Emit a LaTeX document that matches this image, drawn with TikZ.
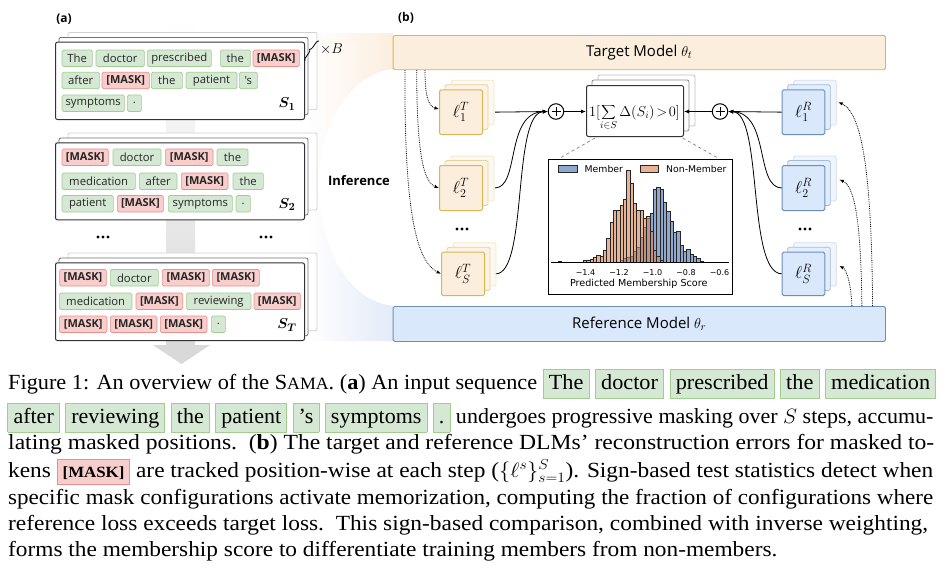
\documentclass[tikz,border=0pt]{standalone}
\usepackage{fontspec}
\usepackage{bm}
\setmainfont{Liberation Serif}
\newfontfamily\osans{Open Sans}
\newfontfamily\dvs{DejaVu Sans}
\usetikzlibrary{arrows.meta,decorations.pathreplacing,calc}
\definecolor{tfill}{HTML}{FBEEDC}
\definecolor{tdraw}{HTML}{D6B656}
\definecolor{rfill}{HTML}{DAE8FC}
\definecolor{rdraw}{HTML}{6C8EBF}
\definecolor{wg}{HTML}{D5E8D4}
\definecolor{wgD}{HTML}{A3CC90}
\definecolor{wr}{HTML}{F8CECC}
\definecolor{wrD}{HTML}{EA8F8C}
\definecolor{peachfan}{HTML}{FBEEDE}
\definecolor{bluefan}{HTML}{E3EBF8}
\definecolor{grayarrow}{HTML}{D9D9D9}
\definecolor{membc}{HTML}{4C72B0}
\definecolor{nonc}{HTML}{DD8452}
\newsavebox\capbox
\newcommand\capline[2]{\sbox\capbox{#2}\pgfmathsetmacro\capsx{#1/\the\wd\capbox}\scalebox{\capsx}[1]{\usebox\capbox}}
\newcommand\gw[1]{{\setlength\fboxsep{0pt}\setlength\fboxrule{0.9pt}\fcolorbox{wgD}{wg}{\rule[-8.5pt]{0pt}{28.2pt}\hspace{5pt}#1\hspace{5pt}}}}
\newcommand\rw[1]{{\setlength\fboxsep{0pt}\setlength\fboxrule{0.9pt}\fcolorbox{wrD}{wr}{\rule[-6.8pt]{0pt}{24.2pt}\hspace{4.5pt}{\fontsize{15.6}{16}\selectfont\textbf{#1}}\hspace{4.5pt}}}}
\newcommand\capfont{\fontsize{21.6}{25}\selectfont}
\newcommand\WB[6]{\node[#1, minimum width={#4-#3}, anchor=west] (#2) at (#3,#5) {#6};}
\newcommand\cardstack[5]{%
  \path[cardback] (#2+13,#3-9.3) rectangle (#4+13,#5-9.3);
  \path[cardmid] (#2+4,#3-4.3) rectangle (#4+4,#5-4.3);
  \node[cardfront, anchor=north west, minimum width={#4-#2}, minimum height={#5-#3}] (#1) at (#2,#3) {};}
\newcommand\losscard[8]{%
  \path[draw=#2!30, fill=#1!40, line width=0.8pt, rounded corners=1.5pt] (#4+12,#5-9) rectangle (#6+12,#7-9);
  \path[draw=#2!60, fill=#1!75, line width=0.8pt, rounded corners=1.5pt] (#4+6,#5-4.5) rectangle (#6+6,#7-4.5);
  \node[draw=#2, fill=#1, line width=1pt, rounded corners=1.5pt, anchor=north west, minimum width={#6-#4}, minimum height={#7-#5}, inner sep=0pt, font=\fontsize{17}{17}\selectfont] (#3) at (#4,#5) {#8};}
\begin{document}
\begin{tikzpicture}[x=1pt,y=-1pt,
  wbox/.style={draw=wgD, fill=wg, rounded corners=1.5pt, line width=0.7pt, minimum height=16.5pt, inner sep=0pt, font=\osans\fontsize{11.3}{12}\selectfont, text=black!85},
  mbox/.style={wbox, draw=wrD, fill=wr, font=\osans\bfseries\fontsize{11}{12}\selectfont},
  cardfront/.style={draw=black!80, fill=white, line width=1pt, rounded corners=2pt, inner sep=0pt},
  cardmid/.style={draw=black!55, fill=white, line width=0.8pt, rounded corners=2pt},
  cardback/.style={draw=black!18, fill=white, line width=0.8pt, rounded corners=2pt},
  arr/.style={-{Latex[length=5pt,width=4pt]}, line width=0.8pt},
  darr/.style={-{Latex[length=4.5pt,width=3.5pt]}, line width=0.8pt, densely dotted},
  lbl/.style={font=\osans\bfseries\fontsize{12}{12}\selectfont},
  slbl/.style={font=\fontsize{15}{15}\selectfont},
  hfont/.style={font=\dvs\fontsize{9.3}{10}\selectfont, inner sep=0pt},
  plus/.style={circle, draw, fill=white, line width=1pt, minimum size=15.5pt, inner sep=0pt},
]
\useasboundingbox (0,0) rectangle (946,568);
\fill[white] (0,0) rectangle (946,568);
% fans
\shade[left color=white, right color=peachfan] (306,33) -- (393,33) -- (393,69) .. controls (345,75) and (320,130) .. (318,185) -- (306,185) -- cycle;
\shade[left color=white, right color=bluefan] (306,185) -- (318,185) .. controls (320,245) and (345,300) .. (393,306) -- (393,341) -- (306,341) -- cycle;
% gray arrow
\shade[top color=white, bottom color=grayarrow] (166,20) rectangle (195,345);
\fill[grayarrow] (153,345) -- (210,345) -- (181.5,364) -- cycle;
% labels
\node[lbl] (la) at (64,19) {(a)};
\node[lbl] (lb) at (406,18) {(b)};
% card S1
\cardstack{c1}{55}{41.7}{304}{119}
\WB{wbox}{a11}{61.7}{92}{58.3}{The}
\WB{wbox}{a12}{95.7}{144}{58.3}{doctor}
\WB{wbox}{a13}{147}{211}{58.3}{prescribed}
\WB{wbox}{a14}{220}{250}{58.3}{the}
\WB{mbox}{a15}{252.7}{299}{58.3}{[MASK]}
\WB{wbox}{a21}{61.7}{99}{80.5}{after}
\WB{mbox}{a22}{101.7}{149}{80.5}{[MASK]}
\WB{wbox}{a23}{151}{182}{80.5}{the}
\WB{wbox}{a24}{185.7}{236.7}{80.5}{patient}
\WB{wbox}{a25}{239}{257}{80.5}{'s}
\WB{wbox}{a31}{61.7}{124}{103.3}{symptoms}
\WB{wbox}{a32}{127}{141}{103.3}{.}
\node[slbl] (s1) at (287,104) {$\bm{S_1}$};
\draw[decorate, decoration={brace, amplitude=3pt}, line width=0.8pt] (305,61) -- (319,41);
\node[font=\fontsize{13.5}{13.5}\selectfont] (xb) at (331.5,49) {$\times B$};
% card S2
\cardstack{c2}{55}{142.3}{304}{219.3}
\WB{mbox}{b11}{61.7}{108}{157.2}{[MASK]}
\WB{wbox}{b12}{112.7}{160.7}{157.2}{doctor}
\WB{mbox}{b13}{165}{212.7}{157.2}{[MASK]}
\WB{wbox}{b14}{216.7}{247.7}{157.2}{the}
\WB{wbox}{b21}{61.7}{135}{181.3}{medication}
\WB{wbox}{b22}{139}{176.7}{181.3}{after}
\WB{mbox}{b23}{181}{227.7}{181.3}{[MASK]}
\WB{wbox}{b24}{232.7}{263}{181.3}{the}
\WB{wbox}{b31}{61.7}{113}{203.8}{patient}
\WB{mbox}{b32}{117}{163}{203.8}{[MASK]}
\WB{wbox}{b33}{168}{232}{203.8}{symptoms}
\WB{wbox}{b34}{235.7}{250}{203.8}{.}
\node[slbl] (s2) at (287,204.5) {$\bm{S_2}$};
\foreach \dx in {-5,0,5} {\fill (103+\dx,237) circle (1.7); \fill (266+\dx,237) circle (1.7);}
% card ST
\cardstack{c3}{55}{262.3}{304}{340}
\WB{mbox}{e11}{59.3}{106}{277.8}{[MASK]}
\WB{wbox}{e12}{110}{158}{277.8}{doctor}
\WB{mbox}{e13}{162}{209}{277.8}{[MASK]}
\WB{mbox}{e14}{212}{259}{277.8}{[MASK]}
\WB{wbox}{e21}{59}{131.7}{301.3}{medication}
\WB{mbox}{e22}{135.7}{182.3}{301.3}{[MASK]}
\WB{wbox}{e23}{186}{250.7}{301.3}{reviewing}
\WB{mbox}{e24}{253.7}{300}{301.3}{[MASK]}
\WB{mbox}{e31}{59}{106.7}{324.3}{[MASK]}
\WB{mbox}{e32}{110}{156.7}{324.3}{[MASK]}
\WB{mbox}{e33}{160}{206.7}{324.3}{[MASK]}
\WB{wbox}{e34}{211}{225}{324.3}{.}
\node[slbl] (s3) at (287,325) {$\bm{S_T}$};
\node[font=\osans\bfseries\fontsize{13}{13}\selectfont] (inf) at (359,180.5) {Inference};
% model boxes
\node[draw=tdraw, fill=tfill, line width=0.9pt, rounded corners=1.5pt, anchor=north west, minimum width=492.3pt, minimum height=34.3pt, font=\osans\fontsize{15}{15}\selectfont] (tgt) at (392.7,35) {Target Model $\theta_t$};
\node[draw=rdraw, fill=rfill, line width=0.9pt, rounded corners=1.5pt, anchor=north west, minimum width=492.3pt, minimum height=35pt, font=\osans\fontsize{15}{15}\selectfont] (ref) at (392.7,306) {Reference Model $\theta_r$};
% loss cards
\losscard{tfill}{tdraw}{t1}{439}{89.3}{482}{134}{$\ell^{T}_{1}$}
\losscard{tfill}{tdraw}{t2}{439}{165}{482}{210}{$\ell^{T}_{2}$}
\losscard{tfill}{tdraw}{tS}{441}{251.7}{484}{295}{$\ell^{T}_{S}$}
\losscard{rfill}{rdraw}{r1}{781.7}{89.3}{824.3}{134}{$\ell^{R}_{1}$}
\losscard{rfill}{rdraw}{r2}{781.7}{165}{824.3}{210}{$\ell^{R}_{2}$}
\losscard{rfill}{rdraw}{rS}{781.7}{251.7}{824.3}{295}{$\ell^{R}_{S}$}
\foreach \dx in {-5,0,5} {\fill (462+\dx,229) circle (1.7); \fill (805+\dx,229) circle (1.7);}
% central box
\path[draw=black!25, fill=white, line width=0.8pt, rounded corners=2pt] (598,75) rectangle (695,126);
\path[draw=black!45, fill=white, line width=0.8pt, rounded corners=2pt] (592,80) rectangle (689,131);
\node[cardfront, anchor=north west, minimum width=97pt, minimum height=51pt] (cbox) at (586,85) {};
\node[anchor=base, inner sep=0pt, font=\fontsize{14}{14}\selectfont] (cform) at (634.5,116) {$\displaystyle 1[\sum_{i\in S}\Delta(S_i)\!>\!0]$};
% plus circles
\node[plus] (pl) at (556,111.5) {};
\node[plus] (pr) at (720,111.5) {};
\draw[line width=1pt] ($(pl)+(-4.5,0)$) -- ($(pl)+(4.5,0)$) ($(pl)+(0,-4.5)$) -- ($(pl)+(0,4.5)$);
\draw[line width=1pt] ($(pr)+(-4.5,0)$) -- ($(pr)+(4.5,0)$) ($(pr)+(0,-4.5)$) -- ($(pr)+(0,4.5)$);
% solid connectors
\draw[arr] ($(t1.east)+(12,0)$) -- (pl.west);
\draw[arr] ($(t2.east)+(12,0)$) .. controls (520,187.5) and (505,113) .. (pl.west);
\draw[arr] ($(tS.east)+(11,0)$) .. controls (528,273) and (512,113) .. (pl.west);
\draw[arr] (r1.west) -- (pr.east);
\draw[arr] (r2.west) .. controls (755,187.5) and (770,113) .. (pr.east);
\draw[arr] (rS.west) .. controls (747,273) and (763,113) .. (pr.east);
\draw[arr] (pl.east) -- (pl.east -| cbox.west);
\draw[arr] (pr.west) -- (pr.west -| cbox.east);
% dotted connectors
\draw[darr] ($(tgt.south west)+(32.3,0)$) .. controls (425,95) and (428,106) .. ($(t1.west)+(0,-3)$);
\draw[darr] ($(tgt.south west)+(24,0)$) .. controls (416.7,150) and (423,182) .. (t2.west);
\draw[darr] ($(tgt.south west)+(12.3,0)$) .. controls (404,220) and (418,262) .. (tS.west);
\draw[darr] ($(ref.north east)+(-34,0)$) .. controls (851,285) and (847,270) .. ($(rS.east)+(14,-8)$);
\draw[darr] ($(ref.north east)+(-24,0)$) .. controls (861,230) and (856,187) .. ($(r2.east)+(14,-8.5)$);
\draw[darr] ($(ref.north east)+(-13.3,0)$) .. controls (871.7,180) and (863,113) .. ($(r1.east)+(13,-10)$);
% histogram
\node[draw=black, line width=0.9pt, anchor=north west, minimum width=184pt, minimum height=135pt, inner sep=0pt] (hist) at (548,159) {};
\draw[dashed, black!45, line width=0.8pt] ($(cbox.south west)+(9,1)$) -- ($(hist.north west)+(12,-1)$);
\draw[dashed, black!45, line width=0.8pt] ($(cbox.south east)+(-1.3,1)$) -- ($(hist.north east)+(-15,-1)$);
\foreach \a/\b in {55/335,240/330,250/326,260/322,270/318,280/305,290/292,300/262,310/232,320/205,330/190,340/118,350/112,360/118,370/158,380/185,390/215,400/248,410/243,420/285,430/305,440/298,450/312,460/318,470/325,480/333}
  \draw[fill=membc, fill opacity=0.62, draw=black!85, line width=0.35pt] ({540+\a/3},262.67) rectangle ({540+(\a+10)/3},{150+\b/3});
\foreach \a/\b in {130/332,140/330,150/328,160/322,170/315,180/318,190/300,200/265,210/218,220/182,230/180,240/165,250/148,260/60,270/100,280/160,290/180,300/180,310/205,320/200,330/245,340/300,350/320,360/330}
  \draw[fill=nonc, fill opacity=0.62, draw=black!85, line width=0.35pt] ({540+\a/3},262.67) rectangle ({540+(\a+10)/3},{150+\b/3});
\draw[line width=0.7pt] (550.7,262.67) -- (728.5,262.67);
\foreach \v/\x [count=\i] in {−1.4/585.5,−1.2/619,−1.0/652.5,−0.8/686,−0.6/719.5}
  \node[font=\dvs\fontsize{8}{9}\selectfont, inner sep=0pt] (tick\i) at (\x,272.5) {\v};
\node[font=\dvs\fontsize{9.6}{10}\selectfont, inner sep=0pt] (xlab) at (638.7,284) {Predicted Membership Score};
\draw[fill=membc, fill opacity=0.62, draw=black!85, line width=0.4pt] (558.3,165.5) rectangle (577,172.5);
\node[hfont, anchor=west] (lgm) at (584.5,169) {Member};
\draw[fill=nonc, fill opacity=0.62, draw=black!85, line width=0.4pt] (640,165.5) rectangle (658.3,172.5);
\node[hfont, anchor=west] (lgn) at (666,169) {Non-Member};
% caption
\node[anchor=base west, inner sep=0pt, font=\capfont] (cap1) at (8,389.3) {\capline{928}{Figure 1: An overview of the S{\fontsize{17.3}{17}\selectfont AMA}. (\textbf{a}) An input sequence \gw{The} \gw{doctor} \gw{prescribed} \gw{the} \gw{medication}}};
\node[anchor=base west, inner sep=0pt, font=\capfont] (cap2) at (7.3,423.3) {\capline{926}{\gw{after} \gw{reviewing} \gw{the} \gw{patient} \gw{’s} \gw{symptoms} \gw{.} undergoes progressive masking over $S$ steps, accumu-}};
\node[anchor=base west, inner sep=0pt, font=\capfont] (cap3) at (8,449.3) {\capline{926}{lating masked positions.\ \ (\textbf{b}) The target and reference DLMs’ reconstruction errors for masked to-}};
\node[anchor=base west, inner sep=0pt, font=\capfont] (cap4) at (8,477.3) {\capline{925}{kens \rw{[MASK]} are tracked position-wise at each step ($\{\ell^s\}_{s=1}^S$). Sign-based test statistics detect when}};
\node[anchor=base west, inner sep=0pt, font=\capfont] (cap5) at (8,504) {\capline{925}{specific mask configurations activate memorization, computing the fraction of configurations where}};
\node[anchor=base west, inner sep=0pt, font=\capfont] (cap6) at (8,530.7) {\capline{920}{reference loss exceeds target loss.\ \ This sign-based comparison, combined with inverse weighting,}};
\node[anchor=base west, inner sep=0pt, font=\capfont] (cap7) at (8,556.7) {\scalebox{1.08}[1]{forms the membership score to differentiate training members from non-members.}};
\end{tikzpicture}
\end{document}
